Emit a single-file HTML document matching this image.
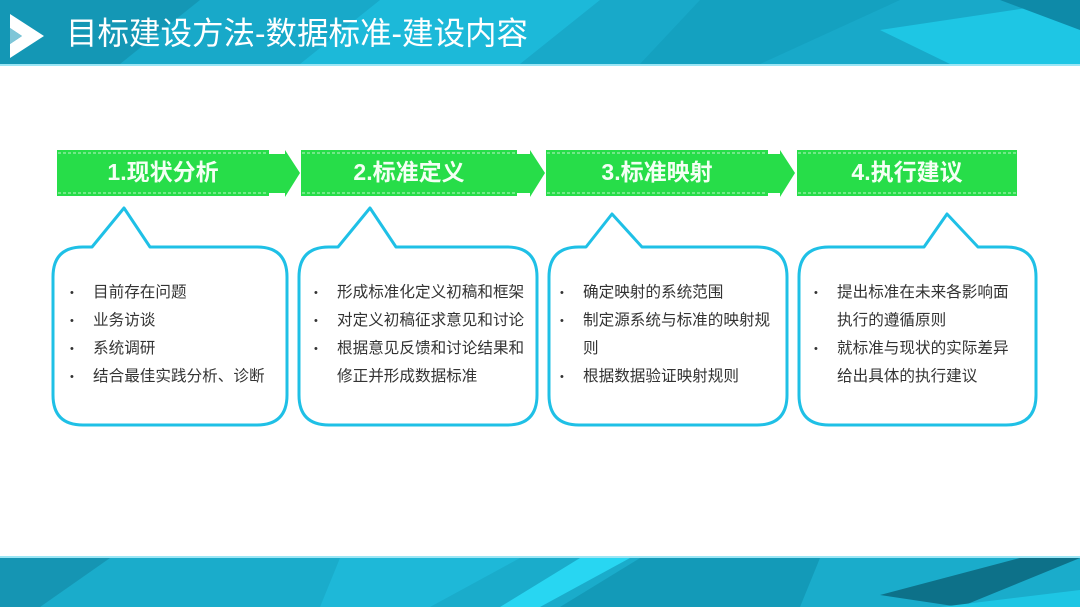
<!DOCTYPE html>
<html><head><meta charset="utf-8"><style>
body{margin:0;width:1080px;height:607px;overflow:hidden;background:#fff;position:relative;font-family:"Liberation Sans","Noto Sans CJK SC",sans-serif}
.t{position:absolute;font-size:15.6px;color:#333;line-height:28px;white-space:nowrap}
.t div{position:relative;padding-left:23px}
.t div.b:before{content:"•";position:absolute;left:0;font-size:11px}
.g{position:absolute;top:157px;font-size:23px;font-weight:bold;color:#f4fff4;text-align:center;line-height:30px}
.title{position:absolute;left:66px;top:14px;font-size:31.5px;color:#fff;line-height:38px}
</style></head><body>
<svg width="1080" height="607" style="position:absolute;left:0;top:0">
<rect x="0" y="0" width="1080" height="64" fill="#18a9c9"/>
<polygon points="0,0 200,0 120,64 0,64" fill="#1497b5"/>
<polygon points="380,0 600,0 520,64 300,64" fill="#1cb9d9"/>
<polygon points="700,0 900,0 760,64 640,64" fill="#14a1c0"/>
<polygon points="880,30 1080,0 1080,64 950,64" fill="#1ec6e4"/>
<polygon points="1000,0 1080,0 1080,30" fill="#0e8aa8"/>
<rect x="0" y="64" width="1080" height="2" fill="#9be6f5"/>
<polygon points="10,14 44,36 10,58 10,44 22,36 10,28" fill="#fff"/>
<polygon points="10,28 22,36 10,44" fill="#7fc6d8"/>
<rect x="0" y="558" width="1080" height="49" fill="#1aaccb"/>
<rect x="0" y="556" width="1080" height="2" fill="#9be6f5"/>
<polygon points="0,558 110,558 40,607 0,607" fill="#1595b3"/>
<polygon points="340,558 520,558 430,607 320,607" fill="#1eb8d8"/>
<polygon points="580,558 630,558 540,607 500,607" fill="#28d6f2"/>
<polygon points="640,558 820,558 800,607 560,607" fill="#139ab8"/>
<polygon points="880,595 1020,558 1080,558 960,607" fill="#0d7189"/>
<polygon points="940,607 1080,590 1080,607" fill="#1ec6e4"/>
<g fill="#27dd49">
<polygon points="57,150 269,150 269,154 285,154 285,150 300,173 285,197 285,193 269,193 269,196 57,196"/>
<polygon points="301,150 517,150 517,154 530,154 530,150 545,173 530,197 530,193 517,193 517,196 301,196"/>
<polygon points="546,150 768,150 768,154 780,154 780,150 795,173 780,197 780,193 768,193 768,196 546,196"/>
<rect x="797" y="150" width="220" height="46"/>
</g>
<g stroke="#fff" stroke-width="1" stroke-dasharray="3,2" opacity="0.7">
<line x1="58" y1="153" x2="268" y2="153"/><line x1="58" y1="193" x2="268" y2="193"/>
<line x1="302" y1="153" x2="516" y2="153"/><line x1="302" y1="193" x2="516" y2="193"/>
<line x1="547" y1="153" x2="767" y2="153"/><line x1="547" y1="193" x2="767" y2="193"/>
<line x1="798" y1="153" x2="1016" y2="153"/><line x1="798" y1="193" x2="1016" y2="193"/>
</g>
<g fill="none" stroke="#1fc0e6" stroke-width="3" stroke-linejoin="round">
<path d="M83,247 L92,247 L124,208 L150,247 L257,247 Q287,247 287,277 L287,395 Q287,425 257,425 L83,425 Q53,425 53,395 L53,277 Q53,247 83,247 Z"/>
<path d="M329,247 L338,247 L370,208 L396,247 L507,247 Q537,247 537,277 L537,395 Q537,425 507,425 L329,425 Q299,425 299,395 L299,277 Q299,247 329,247 Z"/>
<path d="M579,247 L586,247 L612,214 L642,247 L757,247 Q787,247 787,277 L787,395 Q787,425 757,425 L579,425 Q549,425 549,395 L549,277 Q549,247 579,247 Z"/>
<path d="M829,247 L924,247 L947,214 L978,247 L1006,247 Q1036,247 1036,277 L1036,395 Q1036,425 1006,425 L829,425 Q799,425 799,395 L799,277 Q799,247 829,247 Z"/>
</g>
</svg>
<div class="title">目标建设方法-数据标准-建设内容</div>
<div class="g" style="left:57px;width:212px">1.现状分析</div>
<div class="g" style="left:301px;width:216px">2.标准定义</div>
<div class="g" style="left:546px;width:222px">3.标准映射</div>
<div class="g" style="left:797px;width:220px">4.执行建议</div>
<div class="t" style="left:70px;top:279px"><div class="b">目前存在问题</div><div class="b">业务访谈</div><div class="b">系统调研</div><div class="b">结合最佳实践分析、诊断</div></div>
<div class="t" style="left:314px;top:279px"><div class="b">形成标准化定义初稿和框架</div><div class="b">对定义初稿征求意见和讨论</div><div class="b">根据意见反馈和讨论结果和</div><div>修正并形成数据标准</div></div>
<div class="t" style="left:560px;top:279px"><div class="b">确定映射的系统范围</div><div class="b">制定源系统与标准的映射规</div><div>则</div><div class="b">根据数据验证映射规则</div></div>
<div class="t" style="left:814px;top:279px"><div class="b">提出标准在未来各影响面</div><div>执行的遵循原则</div><div class="b">就标准与现状的实际差异</div><div>给出具体的执行建议</div></div>
</body></html>
